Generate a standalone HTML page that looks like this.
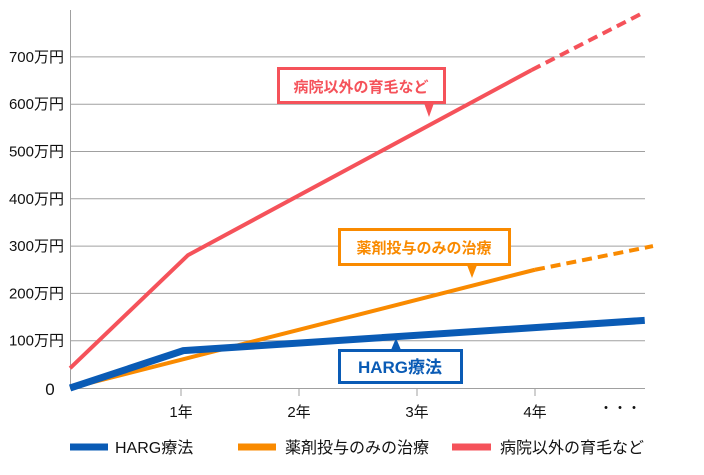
<!DOCTYPE html>
<html><head><meta charset="utf-8">
<style>
body{margin:0;background:#fff;}
svg text{font-family:"Liberation Sans","Noto Sans CJK JP",sans-serif;}
</style></head>
<body>
<svg width="704" height="470" viewBox="0 0 704 470" xmlns="http://www.w3.org/2000/svg">
<g id="grid"></g>
<g id="axes"></g>
<g id="series"></g>
<g id="callouts">
  <g>
    <rect x="278.5" y="68.5" width="166" height="34" fill="#fff" stroke="#f5525a" stroke-width="3"/>
    <polygon points="424,103 434,103 429,117" fill="#f5525a"/>
    <text x="361" y="92" text-anchor="middle" font-size="15" font-weight="bold" fill="#f5525a">病院以外の育毛など</text>
  </g>
  <g>
    <rect x="339.5" y="229.5" width="170" height="35" fill="#fff" stroke="#f98a00" stroke-width="3"/>
    <polygon points="467,265 477,265 472,278" fill="#f98a00"/>
    <text x="424" y="253" text-anchor="middle" font-size="15" font-weight="bold" fill="#f98a00">薬剤投与のみの治療</text>
  </g>
  <g>
    <polygon points="391,350 401,350 396,338" fill="#0a5bb5"/>
    <rect x="339.5" y="350.5" width="122" height="32" fill="#fff" stroke="#0a5bb5" stroke-width="3"/>
    <text x="400" y="373" text-anchor="middle" font-size="17" font-weight="bold" fill="#0a5bb5">HARG療法</text>
  </g>
</g>
<g id="legend">
  <g>
    <line x1="70" y1="447" x2="108" y2="447" stroke="#0a5bb5" stroke-width="7"/>
    <text x="115" y="453" font-size="16" fill="#111">HARG療法</text>
  </g>
  <g>
    <line x1="238" y1="447" x2="276" y2="447" stroke="#f98a00" stroke-width="7"/>
    <text x="285" y="453" font-size="16" fill="#111">薬剤投与のみの治療</text>
  </g>
  <g>
    <line x1="452" y1="447" x2="491" y2="447" stroke="#f5525a" stroke-width="7"/>
    <text x="500" y="453" font-size="16" fill="#111">病院以外の育毛など</text>
  </g>
</g>
</svg>
<script>
const yTicks=[100,200,300,400,500,600,700];
const yTickLabels=["100万円","200万円","300万円","400万円","500万円","600万円","700万円"];
const xTicks=[1,2,3,4];
const xTickLabels=["1年","2年","3年","4年"];
const hargX=[0.06,1.02,4.93];
const hargY=[0,79,143];
const medX=[0.06,4];
const medY=[0,250];
const medDashX=[4,5.0];
const medDashY=[250,300];
const hospX=[0.06,1.06,3.97];
const hospY=[42,281,672];
const hospDashX=[3.97,4.93];
const hospDashY=[672,795];

const NS="http://www.w3.org/2000/svg";
function sx(v){return 63+v*118;}
function sy(v){return 388-v*0.473;}
function mk(tag,attrs,parent){const e=document.createElementNS(NS,tag);for(const k in attrs)e.setAttribute(k,attrs[k]);parent.appendChild(e);return e;}
const grid=document.getElementById('grid'),axes=document.getElementById('axes'),series=document.getElementById('series');
yTicks.forEach((v,i)=>{
  const l=mk('line',{x1:70,x2:645,y1:sy(v),y2:sy(v),stroke:'#a0a0a0','stroke-width':1},grid);
  
  
  const t=mk('text',{x:64,y:sy(v)+5,'text-anchor':'end','font-size':15,fill:'#111'},axes);
  t.textContent=yTickLabels[i];
  
  
});
const y0=mk('text',{x:50,y:sy(0)+7,'text-anchor':'middle','font-size':17,fill:'#111'},axes);
y0.textContent='0';


const ya=mk('line',{x1:70.5,x2:70.5,y1:10,y2:388,stroke:'#a0a0a0','stroke-width':1},axes);


const xa=mk('line',{x1:70,x2:645,y1:388.5,y2:388.5,stroke:'#a0a0a0','stroke-width':1},axes);


xTicks.forEach((v,i)=>{
  const tk=mk('line',{x1:sx(v),x2:sx(v),y1:388,y2:396,stroke:'#a0a0a0','stroke-width':1},axes);
  
  
  const t=mk('text',{x:sx(v),y:417,'text-anchor':'middle','font-size':15,fill:'#111'},axes);
  t.textContent=xTickLabels[i];
  
  
});
const dots=mk('text',{x:620,y:413,'text-anchor':'middle','font-size':14,fill:'#111'},axes);
dots.textContent='・・・';


function pts(xs,ys){return xs.map((x,i)=>sx(x)+','+sy(ys[i])).join(' ');}
function line(xs,ys,color,w,name,dash){
  const p=mk('polyline',{points:pts(xs,ys),fill:'none',stroke:color,'stroke-width':w,'stroke-linejoin':'round'},series);
  if(dash)p.setAttribute('stroke-dasharray',dash);
  
  
}
line(hospX,hospY,'#f5525a',4,'line-hospital-external');
line(hospDashX,hospDashY,'#f5525a',4,'line-hospital-external-projection','10,6');
line(medX,medY,'#f98a00',4,'line-medication');
line(medDashX,medDashY,'#f98a00',4,'line-medication-projection','10,6');
line(hargX,hargY,'#0a5bb5',7,'line-harg');
</script>
</body></html>
